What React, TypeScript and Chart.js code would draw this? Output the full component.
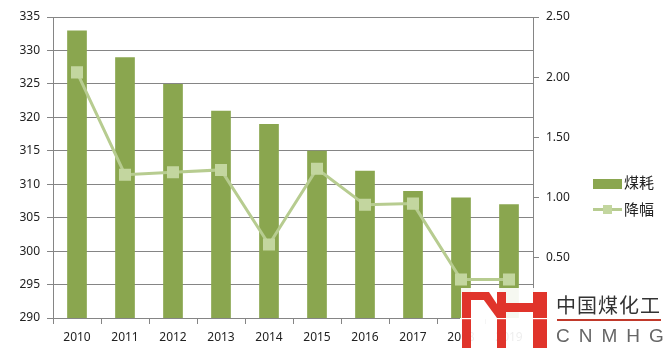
import React, { useEffect, useRef } from "react";
import { Chart, registerables } from "chart.js";

Chart.register(...registerables);

const years = ["2010", "2011", "2012", "2013", "2014", "2015", "2016", "2017", "2018", "2019"];
const coalUse = [333, 329, 325, 321, 319, 315, 312, 309, 308, 307];
const decline = [2.04, 1.19, 1.21, 1.23, 0.61, 1.24, 0.94, 0.95, 0.32, 0.32];
const seriesNames = ["煤耗", "降幅"];

const BAR = "#8aa64f";
const LINE = "#b7cc90";
const MARK = "#c3d69f";
const GRID = "#858585";
const RED = "#e0342b";
const FONT = "'Noto Sans', 'DejaVu Sans', sans-serif";
const CJK = "'Noto Sans CJK SC', sans-serif";

export default function App() {
  const ref = useRef<HTMLCanvasElement>(null);
  useEffect(() => {
    if (!ref.current) return;
    const chart = new Chart(ref.current, {
      data: {
        labels: years,
        datasets: [
          {
            type: "line",
            label: seriesNames[1],
            data: decline,
            yAxisID: "y1",
            borderColor: LINE,
            borderWidth: 3,
            pointStyle: "rect",
            pointRadius: 8.5,
            pointBackgroundColor: MARK,
            pointBorderColor: MARK,
            pointBorderWidth: 0,
            tension: 0,
            order: 0,
          },
          {
            type: "bar",
            label: seriesNames[0],
            data: coalUse,
            yAxisID: "y",
            backgroundColor: BAR,
            barPercentage: 0.41,
            categoryPercentage: 1,
            order: 1,
          },
        ],
      },
      options: {
        animation: false,
        responsive: false,
        maintainAspectRatio: false,
        layout: { padding: { top: 17, left: 0, right: 0, bottom: 0 } },
        plugins: { legend: { display: false }, tooltip: { enabled: false } },
        scales: {
          x: {
            offset: true,
            grid: { offset: true, drawOnChartArea: false, drawTicks: true, tickLength: 6, color: GRID },
            border: { color: GRID },
            ticks: { color: "#222", font: { family: FONT, size: 12 }, padding: 6, maxRotation: 0 },
            afterFit: (s: any) => { s.height = 37; },
          },
          y: {
            position: "left",
            min: 290,
            max: 335,
            grid: { color: GRID, tickLength: 6, drawTicks: true },
            border: { color: GRID },
            ticks: { stepSize: 5, color: "#222", font: { family: FONT, size: 12 }, padding: 7 },
            afterFit: (s: any) => { s.width = 53; },
          },
          y1: {
            position: "right",
            min: 0,
            max: 2.5,
            grid: { drawOnChartArea: false, color: GRID, tickLength: 6 },
            border: { color: GRID },
            ticks: {
              stepSize: 0.5,
              color: "#222",
              font: { family: FONT, size: 12 },
              padding: 7,
              callback: (v: any) => (Number(v) === 0 ? "" : Number(v).toFixed(2)),
            },
            afterFit: (s: any) => { s.width = 134; },
          },
        },
      },
    } as any);
    return () => chart.destroy();
  }, []);

  return (
    <div style={{ position: "fixed", left: 0, top: 0, width: 667, height: 355, background: "#fff", overflow: "hidden" }}>
      <canvas ref={ref} width={667} height={355} style={{ position: "absolute", left: 0, top: 0 }} />
      {/* legend */}
      <div style={{ position: "absolute", left: 593, top: 179, width: 29, height: 10, background: BAR }} />
      <div style={{ position: "absolute", left: 624, top: 172, fontFamily: CJK, fontSize: 15, lineHeight: "20px", color: "#222" }}>{seriesNames[0]}</div>
      <div style={{ position: "absolute", left: 593, top: 208, width: 29, height: 3, background: LINE }} />
      <div style={{ position: "absolute", left: 603, top: 205, width: 9, height: 9, background: MARK }} />
      <div style={{ position: "absolute", left: 624, top: 199, fontFamily: CJK, fontSize: 15, lineHeight: "20px", color: "#222" }}>{seriesNames[1]}</div>
      {/* watermark logo */}
      <div style={{ position: "absolute", left: 461, top: 288, width: 206, height: 67, background: "rgba(255,255,255,0.92)" }} />
      <svg width={100} height={70} style={{ position: "absolute", left: 455, top: 285 }} viewBox="455 285 100 70">
        <rect x={462} y={292} width={9} height={56} fill={RED} />
        <rect x={462} y={292} width={24} height={8} fill={RED} />
        <polygon points="478,292 489,292 506,318 497,318" fill={RED} />
        <rect x={497} y={292} width={9} height={56} fill={RED} />
        <rect x={506} y={303} width={27} height={9} fill={RED} />
        <rect x={533} y={292} width={14} height={56} fill={RED} />
        <rect x={460} y={318} width={90} height={1.2} fill="#fff" />
      </svg>
      <div style={{ position: "absolute", left: 556, top: 293, fontFamily: CJK, fontSize: 20, lineHeight: "24px", color: "#333", letterSpacing: 1 }}>中国煤化工</div>
      <div style={{ position: "absolute", left: 557, top: 319, width: 104, height: 2, background: "#c0392b" }} />
      <div style={{ position: "absolute", left: 556, top: 325, fontFamily: "'Liberation Sans', sans-serif", fontSize: 19, lineHeight: "22px", color: "#666", letterSpacing: 9 }}>CNMHG</div>
    </div>
  );
}
